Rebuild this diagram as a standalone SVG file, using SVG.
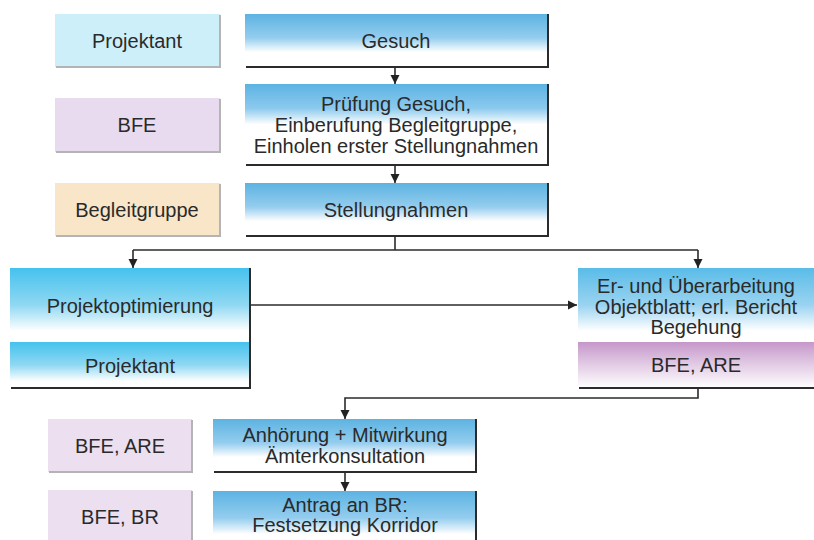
<svg xmlns="http://www.w3.org/2000/svg" width="814" height="540" viewBox="0 0 814 540">
<defs>
<linearGradient id="gBlue" x1="0" y1="0" x2="0" y2="1">
<stop offset="0" stop-color="#5cb3e2"/>
<stop offset="0.45" stop-color="#94cdee"/>
<stop offset="0.72" stop-color="#ffffff"/>
<stop offset="1" stop-color="#ffffff"/>
</linearGradient>
<linearGradient id="gBlueTall" x1="0" y1="0" x2="0" y2="1">
<stop offset="0" stop-color="#5cb3e2"/>
<stop offset="0.3" stop-color="#8ccaee"/>
<stop offset="0.5" stop-color="#ffffff"/>
<stop offset="1" stop-color="#ffffff"/>
</linearGradient>
<linearGradient id="gCyan" x1="0" y1="0" x2="0" y2="1">
<stop offset="0" stop-color="#45c2ee"/>
<stop offset="0.5" stop-color="#8fd8f2"/>
<stop offset="0.85" stop-color="#ffffff"/>
<stop offset="1" stop-color="#ffffff"/>
</linearGradient>
<linearGradient id="gCyanR" x1="0" y1="0" x2="0" y2="1">
<stop offset="0" stop-color="#5abce8"/>
<stop offset="0.5" stop-color="#9ad3f0"/>
<stop offset="0.85" stop-color="#ffffff"/>
<stop offset="1" stop-color="#ffffff"/>
</linearGradient>
<linearGradient id="gPurple" x1="0" y1="0" x2="0" y2="1">
<stop offset="0" stop-color="#c597c9"/>
<stop offset="0.5" stop-color="#e3cce6"/>
<stop offset="1" stop-color="#ffffff"/>
</linearGradient>
<marker id="arr" markerWidth="10" markerHeight="10" refX="9" refY="5" orient="auto" markerUnits="userSpaceOnUse">
<path d="M0,0.5 L9,5 L0,9.5 z" fill="#222"/>
</marker>
</defs>
<style>
text{font-family:"Liberation Sans",Arial,sans-serif;font-size:20px;fill:#2a2a2a;text-anchor:middle}
.edge{stroke:#2b2b2b;stroke-width:2;fill:none}
.shadow{stroke:#b4b4b4;stroke-width:2;fill:none}
.conn{stroke:#2b2b2b;stroke-width:1.6;fill:none}
</style>

<g id="role-projektant">
<rect x="55" y="14" width="165" height="53" fill="#cdeff9"/>
<path class="shadow" d="M220,15 V67 H56"/>
<text x="137" y="48">Projektant</text>
</g>
<g id="role-bfe">
<rect x="55" y="98" width="165" height="54" fill="#e9dbef"/>
<path class="shadow" d="M220,99 V152 H56"/>
<text x="137" y="132">BFE</text>
</g>
<g id="role-begleitgruppe">
<rect x="55" y="183" width="165" height="53" fill="#f9e5c8"/>
<path class="shadow" d="M220,184 V236 H56"/>
<text x="137" y="217">Begleitgruppe</text>
</g>
<g id="role-bfe-are">
<rect x="48" y="419" width="144" height="53" fill="#ecdff0"/>
<path class="shadow" d="M192,420 V472 H49"/>
<text x="120" y="453">BFE, ARE</text>
</g>
<g id="role-bfe-br">
<rect x="48" y="490" width="144" height="60" fill="#ecdff0"/>
<path class="shadow" d="M192,491 V540"/>
<text x="120" y="524">BFE, BR</text>
</g>

<g id="gesuch">
<rect x="245" y="14" width="303" height="53" fill="url(#gBlue)"/>
<path class="edge" d="M548,14 V67 H246"/>
<text x="396" y="48">Gesuch</text>
</g>
<g id="pruefung">
<rect x="245" y="84" width="303" height="81" fill="url(#gBlueTall)"/>
<path class="edge" d="M548,84 V165 H246"/>
<text x="396" y="111">Prüfung Gesuch,</text>
<text x="396" y="132">Einberufung Begleitgruppe,</text>
<text x="396" y="153">Einholen erster Stellungnahmen</text>
</g>
<g id="stellungnahmen">
<rect x="245" y="183" width="303" height="53" fill="url(#gBlue)"/>
<path class="edge" d="M548,183 V236 H246"/>
<text x="396" y="217">Stellungnahmen</text>
</g>
<g id="projektoptimierung">
<rect x="10" y="268" width="240" height="74" fill="url(#gCyan)"/>
<rect x="10" y="342" width="240" height="46" fill="url(#gCyan)"/>
<path class="edge" d="M250,268 V388 H11"/>
<text x="130" y="313">Projektoptimierung</text>
<text x="130" y="373">Projektant</text>
</g>
<g id="objektblatt">
<rect x="578" y="268" width="236" height="74" fill="url(#gCyanR)"/>
<rect x="578" y="342" width="236" height="46" fill="url(#gPurple)"/>
<path class="edge" d="M579,388 H814"/>
<text x="696" y="293">Er- und Überarbeitung</text>
<text x="696" y="314">Objektblatt; erl. Bericht</text>
<text x="696" y="334">Begehung</text>
<text x="696" y="372">BFE, ARE</text>
</g>
<g id="anhoerung">
<rect x="213" y="419" width="263" height="53" fill="url(#gBlue)"/>
<path class="edge" d="M476,419 V472 H214"/>
<text x="345" y="442">Anhörung + Mitwirkung</text>
<text x="345" y="463">Ämterkonsultation</text>
</g>
<g id="antrag">
<rect x="213" y="491" width="263" height="60" fill="url(#gBlue)"/>
<path class="edge" d="M476,491 V540"/>
<text x="345" y="512">Antrag an BR:</text>
<text x="345" y="532">Festsetzung Korridor</text>
</g>

<g id="connectors">
<path class="conn" d="M395,68 V84" marker-end="url(#arr)"/>
<path class="conn" d="M395,166 V183" marker-end="url(#arr)"/>
<path class="conn" d="M395,237 V250"/>
<path class="conn" d="M133,250 H698"/>
<path class="conn" d="M133,250 V268" marker-end="url(#arr)"/>
<path class="conn" d="M698,250 V268" marker-end="url(#arr)"/>
<path class="conn" d="M251,305 H577" marker-end="url(#arr)"/>
<path class="conn" d="M698,389 V398 H345 V419" marker-end="url(#arr)"/>
<path class="conn" d="M345,473 V491" marker-end="url(#arr)"/>
</g>
</svg>
